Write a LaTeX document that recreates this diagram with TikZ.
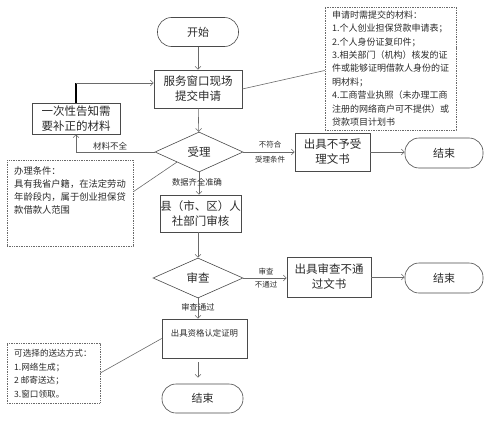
\documentclass[tikz,border=0pt]{standalone}
\usepackage{fontspec}
\setmainfont{Noto Sans CJK SC}
\usetikzlibrary{shapes.geometric,arrows.meta,calc}
\definecolor{bord}{HTML}{4A4A4A}
\definecolor{lin}{HTML}{6A6A6A}
\definecolor{txt}{HTML}{2A2A2A}
\begin{document}
\begin{tikzpicture}[x=1pt,y=-1pt,
  every node/.style={text=txt},
  box/.style={draw=bord, line width=0.6pt, inner sep=0pt, align=center, font=\fontsize{11.5}{15}\selectfont},
  term/.style={draw=bord, line width=0.6pt, rounded corners=14pt, inner sep=0pt, font=\fontsize{11}{13}\selectfont},
  dec/.style={diamond, draw=bord, line width=0.6pt, inner sep=0pt, font=\fontsize{11.5}{13}\selectfont},
  notebox/.style={draw=lin, line width=0.6pt, dash pattern=on 1pt off 0.7pt, inner sep=0pt},
  notetext/.style={anchor=north west, inner sep=0pt, align=left},
  arr/.style={draw=lin, line width=0.6pt, -{Straight Barb[length=3pt,width=6pt]}},
  cline/.style={draw=lin, line width=0.6pt},
  lbl/.style={inner sep=0pt, font=\fontsize{7.5}{9}\selectfont}
]
\useasboundingbox (0,0) rectangle (489,428);

% main flow nodes
\node[term, minimum width=81pt, minimum height=29pt] (start) at (198,32) {开始};
\node[box, minimum width=88pt, minimum height=38pt] (apply) at (198,89) {服务窗口现场\\提交申请};
\node[box, minimum width=88pt, minimum height=31pt] (notify) at (76,118.5) {一次性告知需\\要补正的材料};
\node[dec, minimum width=88pt, minimum height=40pt] (accept) at (199,152) {受理};
\node[box, minimum width=75pt, minimum height=38pt] (rej1) at (332.5,152) {出具不予受\\理文书};
\node[term, minimum width=78pt, minimum height=30pt] (end1) at (444,153) {结束};
\node[box, minimum width=81pt, minimum height=37pt] (county) at (200.5,213.5) {县（市、区）人\\社部门审核};
\node[dec, minimum width=90pt, minimum height=40pt] (review) at (198,278) {审查};
\node[box, minimum width=84pt, minimum height=40pt] (rej2) at (329,277) {出具审查不通\\过文书};
\node[term, minimum width=78pt, minimum height=30pt] (end2) at (444,278) {结束};
\node[box, minimum width=85pt, minimum height=39pt] (cert) at (204.5,338.5) {};
\node[inner sep=0pt, font=\fontsize{8.4}{10}\selectfont] (certtext) at (204.5,333) {出具资格认定证明};
\node[term, minimum width=81pt, minimum height=29pt] (end3) at (202.5,398.5) {结束};

% notes
\node[notebox, minimum width=131pt, minimum height=123pt] (note1) at (390.5,68.5) {};
\node[notetext, font=\fontsize{9}{13.4}\selectfont] (note1t) at (332,10.5) {申请时需提交的材料：\\1.个人创业担保贷款申请表；\\2.个人身份证复印件；\\3.相关部门（机构）核发的证\\件或能够证明借款人身份的证\\明材料；\\4.工商营业执照（未办理工商\\注册的网络商户可不提供）或\\贷款项目计划书};
\node[notebox, minimum width=126pt, minimum height=86pt] (note2) at (70,203) {};
\node[notetext, font=\fontsize{9.3}{13}\selectfont] (note2t) at (14,166.5) {办理条件：\\具有我省户籍，在法定劳动\\年龄段内，属于创业担保贷\\款借款人范围};
\node[notebox, minimum width=93pt, minimum height=60pt] (note3) at (53.5,373) {};
\node[notetext, font=\fontsize{8.6}{13.6}\selectfont] (note3t) at (14,349) {可选择的送达方式：\\1.网络生成；\\2 邮寄送达；\\3.窗口领取。};

% connectors
\draw[arr] (start) -- (apply);
\draw[arr] (apply) -- (accept);
\draw[arr] (accept.west) -| (notify.south);
\node[lbl, font=\fontsize{8.5}{10}\selectfont] (l1) at (110,146) {材料不全};
\coordinate (bend) at (76,83);
\draw[line width=1.5pt, black] (notify.north) -- (bend);
\draw[arr] (bend) -- (bend -| apply.west);
\draw[arr] (accept.east) -- (rej1.west);
\node[lbl] (l2) at (270,145) {不符合};
\node[lbl] (l3) at (270,160) {受理条件};
\draw[arr] (rej1.east) -- (end1.west |- rej1.east);
\draw[arr] (accept.south) -- (accept.south |- county.north);
\node[lbl, font=\fontsize{8.3}{10}\selectfont] (l4) at (197,182) {数据齐全准确};
\draw[arr] (county.south -| review.north) -- (review.north);
\draw[arr] (review.east) -- (rej2.west |- review.east);
\node[lbl] (l5) at (266,272) {审查};
\node[lbl] (l6) at (266,285) {不通过};
\draw[arr] (rej2.east) -- (end2.west |- rej2.east);
\draw[arr] (review.south) -- (review.south |- cert.north);
\node[lbl, font=\fontsize{8.3}{10}\selectfont] (l7) at (198,307) {审查通过};
\draw[arr, shorten <=4pt, shorten >=6pt] (cert.south -| review.south) -- (end3.north -| review.south);

% callout lines
\draw[cline] (apply.east) -- ($(note1.west)+(0,2)$);
\draw[cline] ($(note2.north east)+(0,32)$) -- (accept.south west);
\draw[cline] (note3.east) -- (cert.west);
\end{tikzpicture}
\end{document}
